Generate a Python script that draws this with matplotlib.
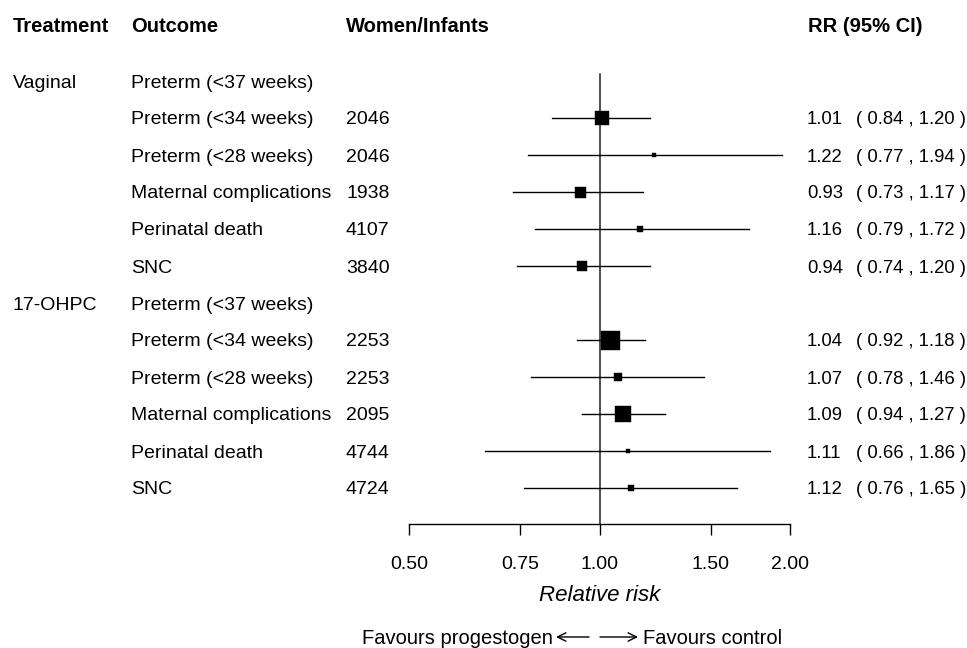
import numpy as np
import matplotlib
matplotlib.use('Agg')
import matplotlib.pyplot as plt

plt.rcParams['font.family'] = ['Liberation Sans', 'DejaVu Sans']

treatments = ['Vaginal', '17-OHPC']
outcomes = ['Preterm (<37 weeks)', 'Preterm (<34 weeks)', 'Preterm (<28 weeks)',
            'Maternal complications', 'Perinatal death', 'SNC']
n_women = [None, 2046, 2046, 1938, 4107, 3840,
           None, 2253, 2253, 2095, 4744, 4724]
rr = [np.nan, 1.01, 1.22, 0.93, 1.16, 0.94,
      np.nan, 1.04, 1.07, 1.09, 1.11, 1.12]
lo = [np.nan, 0.84, 0.77, 0.73, 0.79, 0.74,
      np.nan, 0.92, 0.78, 0.94, 0.66, 0.76]
hi = [np.nan, 1.20, 1.94, 1.17, 1.72, 1.20,
      np.nan, 1.18, 1.46, 1.27, 1.86, 1.65]
# relative box weight (box side in pixels)
weight = [0, 14, 5, 11, 6, 10,
          0, 19, 8, 16, 5, 6]
ticks = [0.5, 0.75, 1.0, 1.5, 2.0]

W, H = 967, 648
fig = plt.figure(figsize=(W/100, H/100), dpi=100)

def fx(px):
    return px / W
def fy(py):
    return 1 - py / H

# forest axes, rows spaced 37 px starting at y=81
top_px, bot_px = 70, 524
row0, step = 81, 37
ax = fig.add_axes([fx(409), fy(bot_px), (790 - 409) / W, (bot_px - top_px) / H])
ax.set_xscale('log')
ax.set_xlim(0.5, 2.0)
ax.set_ylim((bot_px - row0) / step, (top_px - row0) / step)
for s in ['top', 'right', 'left']:
    ax.spines[s].set_visible(False)
ax.spines['bottom'].set_linewidth(1.0)
ax.set_yticks([])
ax.set_xticks(ticks)
ax.set_xticklabels(['%.2f' % t for t in ticks])
ax.xaxis.set_minor_locator(matplotlib.ticker.NullLocator())
ax.tick_params(axis='x', length=8, width=1.0, pad=15, labelsize=14)
ax.set_xlabel('Relative risk', fontsize=16, style='italic', labelpad=9)
ax.patch.set_alpha(0)

ax.plot([1, 1], [-0.2, (bot_px - row0) / step], color='#333333', lw=1.2, zorder=1)

rows = np.arange(len(rr))
for i in rows:
    if np.isnan(rr[i]):
        continue
    ax.plot([lo[i], hi[i]], [i, i], color='black', lw=1.0, zorder=2)
    ax.plot(rr[i], i, marker='s', color='black', ms=weight[i] * 0.72,
            mec='black', mew=0.3, zorder=3)

fs = 14
hfs = 14.5
rfs = 13.3
dy = 2  # text sits a little lower than bbox centre
# headers
fig.text(fx(13), fy(25 + dy), 'Treatment', fontsize=hfs, fontweight='bold', va='center')
fig.text(fx(131), fy(25 + dy), 'Outcome', fontsize=hfs, fontweight='bold', va='center')
fig.text(fx(346), fy(25 + dy), 'Women/Infants', fontsize=hfs, fontweight='bold', va='center')
fig.text(fx(808), fy(25 + dy), 'RR (95% CI)', fontsize=hfs, fontweight='bold', va='center')

for i in rows:
    y = fy(row0 + step * i + dy)
    if i % 6 == 0:
        fig.text(fx(13), y, treatments[i // 6], fontsize=fs, va='center')
    fig.text(fx(131), y, outcomes[i % 6], fontsize=fs, va='center')
    if n_women[i] is not None:
        fig.text(fx(346), y, str(n_women[i]), fontsize=fs, va='center')
    if not np.isnan(rr[i]):
        fig.text(fx(807), y, '%.2f' % rr[i], fontsize=rfs, va='center')
        fig.text(fx(856), y, '( %.2f , %.2f )' % (lo[i], hi[i]), fontsize=rfs, va='center')

# favours labels with arrows
ya = 637
bfs = 14.5
fig.text(fx(553), fy(ya + dy), 'Favours progestogen', fontsize=bfs, va='center', ha='right')
fig.text(fx(643), fy(ya + dy), 'Favours control', fontsize=bfs, va='center', ha='left')
arr = dict(arrowstyle='->, head_length=0.6, head_width=0.3', lw=1.0, color='black',
           shrinkA=0, shrinkB=0)
ax.annotate('', xy=(556, H - ya), xytext=(589, H - ya), xycoords='figure pixels',
            textcoords='figure pixels', arrowprops=arr, annotation_clip=False)
ax.annotate('', xy=(638, H - ya), xytext=(600, H - ya), xycoords='figure pixels',
            textcoords='figure pixels', arrowprops=arr, annotation_clip=False)

fig.savefig('out.png', dpi=100)
